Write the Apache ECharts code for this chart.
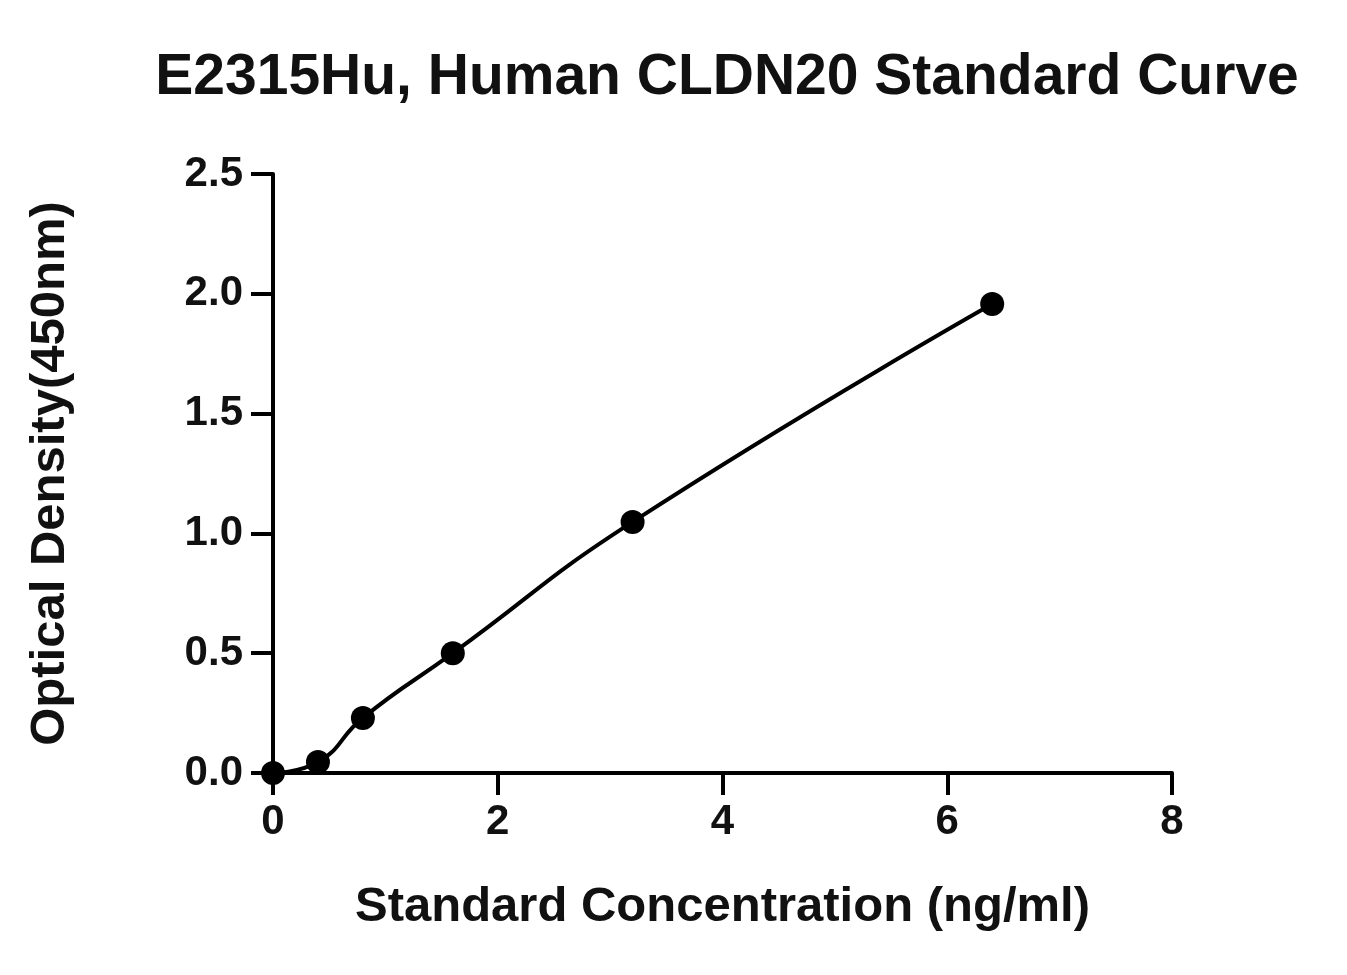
<!DOCTYPE html>
<html><head><meta charset="utf-8">
<script src="https://cdn.jsdelivr.net/npm/echarts@6/dist/echarts.min.js"></script>
<style>html,body{margin:0;background:#fff}#c{width:1347px;height:975px}</style>
</head><body><div id="c"></div>
<script>
const conc = [0, 0.4, 0.8, 1.6, 3.2, 6.4];
const od = [0.0, 0.046, 0.23, 0.5, 1.048, 1.957];
const xTicks = [0, 2, 4, 6, 8];
const yTicks = [0, 0.5, 1.0, 1.5, 2.0, 2.5];
const data = conc.map((c, i) => [c, od[i]]);
const f = 'Liberation Sans, Arial, sans-serif';
const chart = echarts.init(document.getElementById('c'));
chart.setOption({
  animation: false,
  title: {text: 'E2315Hu, Human CLDN20 Standard Curve', left: 722, top: 45, textAlign: 'center',
    textStyle: {fontFamily: f, fontWeight: 'bold', fontSize: 57, color: '#111'}},
  grid: {left: 273, right: 175, top: 174, bottom: 202},
  xAxis: {type: 'value', min: 0, max: 8, interval: 2,
    name: 'Standard Concentration (ng/ml)', nameLocation: 'middle', nameGap: 110,
    nameTextStyle: {fontFamily: f, fontWeight: 'bold', fontSize: 49, color: '#111'},
    axisLine: {lineStyle: {color: '#000', width: 4}},
    axisTick: {length: 22, lineStyle: {color: '#000', width: 4}},
    splitLine: {show: false},
    axisLabel: {fontFamily: f, fontWeight: 'bold', fontSize: 42, color: '#111', margin: 28}},
  yAxis: {type: 'value', min: 0, max: 2.5, interval: 0.5,
    name: 'Optical Density(450nm)', nameLocation: 'middle', nameGap: 198,
    nameTextStyle: {fontFamily: f, fontWeight: 'bold', fontSize: 49, color: '#111'},
    axisLine: {show: true, lineStyle: {color: '#000', width: 4}},
    axisTick: {show: true, length: 22, lineStyle: {color: '#000', width: 4}},
    splitLine: {show: false},
    axisLabel: {fontFamily: f, fontWeight: 'bold', fontSize: 42, color: '#111', margin: 30,
      formatter: v => v.toFixed(1)}},
  series: [{type: 'line', data: data, smooth: 0.5, symbol: 'circle', symbolSize: 24,
    itemStyle: {color: '#000'}, lineStyle: {color: '#000', width: 4}}]
});
</script></body></html>
